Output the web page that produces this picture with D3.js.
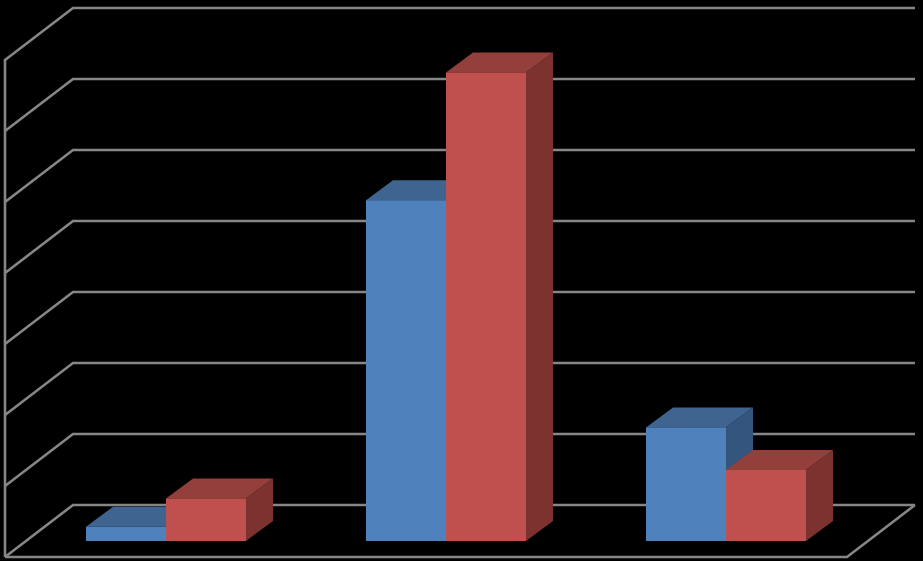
<!DOCTYPE html>
<html>
<head>
<meta charset="utf-8">
<script src="https://cdn.jsdelivr.net/npm/d3@7/dist/d3.min.js"></script>
<style>html,body{margin:0;padding:0;background:#000;overflow:hidden}svg{display:block}</style>
</head>
<body>
<svg id="chart" width="923" height="561"></svg>
<script>
const categories = ["Category 1", "Category 2", "Category 3"];
const seriesNames = ["Series 1", "Series 2"];
const series1 = [0.2, 4.8, 1.6];
const series2 = [0.6, 6.6, 1.0];
const gridTicks = [0, 1, 2, 3, 4, 5, 6, 7];
const faceColors = {
  "Series 1": {front: "#4F81BD", top: "#3E648F", side: "#33557E"},
  "Series 2": {front: "#C0504D", top: "#933F3C", side: "#7C322F"}
};
const gridColor = "#868686";

const svg = d3.select("#chart");
svg.append("rect").attr("width", 923).attr("height", 561).attr("fill", "#000");

// Back wall scale
const y = d3.scaleLinear().domain([0, 7]).range([505, 8]);
// Chart depth (floor and wall) and bar depth
const wallDx = 68, wallDy = 52;
const barDx = 27, barDy = 20;
const frontLeft = 5, frontRight = 847;
const barBaseShift = 36;

const x0 = d3.scaleBand().domain(categories).range([26, 866]);
const x1 = d3.scaleBand().domain(seriesNames).range([60, 220]);

const grid = svg.append("g").attr("fill", "none").attr("stroke", gridColor).attr("stroke-width", 2.6);
const line = d3.line();

// Left wall: vertical edge
grid.append("path").attr("d", line([[frontLeft, y(7) + wallDy - 1], [frontLeft, y(0) + wallDy]]));

// Back-wall gridlines with their diagonals on the side wall
grid.selectAll("path.tick").data(gridTicks).join("path")
  .attr("class", "tick")
  .attr("stroke-linejoin", "miter")
  .attr("d", t => line([
    [frontLeft, y(t) + wallDy],
    [frontLeft + wallDx, y(t)],
    [frontRight + wallDx, y(t)]
  ]));

// Floor
grid.append("path").attr("d", line([
  [frontLeft, y(0) + wallDy],
  [frontRight, y(0) + wallDy],
  [frontRight + wallDx, y(0)]
]));

// Bars
const rows = [];
categories.forEach((c, i) => {
  rows.push({c, s: seriesNames[0], v: series1[i]});
  rows.push({c, s: seriesNames[1], v: series2[i]});
});

const bars = svg.append("g").selectAll("g").data(rows).join("g");
const geom = d => {
  const l = x0(d.c) + x1(d.s);
  const r = l + x1.bandwidth();
  const b = y(0) + barBaseShift;
  const t = y(d.v) + barBaseShift;
  return {l, r, b, t};
};
bars.append("path")
  .attr("fill", d => faceColors[d.s].side)
  .attr("d", d => { const g = geom(d); return line([[g.r, g.t], [g.r + barDx, g.t - barDy], [g.r + barDx, g.b - barDy], [g.r, g.b]]) + "Z"; });
bars.append("path")
  .attr("fill", d => faceColors[d.s].top)
  .attr("d", d => { const g = geom(d); return line([[g.l, g.t], [g.l + barDx, g.t - barDy], [g.r + barDx, g.t - barDy], [g.r, g.t]]) + "Z"; });
bars.append("rect")
  .attr("fill", d => faceColors[d.s].front)
  .attr("x", d => geom(d).l)
  .attr("y", d => geom(d).t)
  .attr("width", x1.bandwidth())
  .attr("height", d => geom(d).b - geom(d).t);
</script>
</body>
</html>
